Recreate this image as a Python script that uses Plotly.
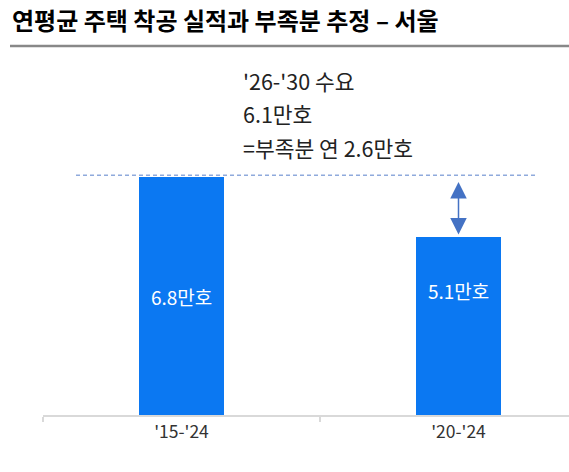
import plotly.graph_objects as go

# data
periods = ["'15-'24", "'20-'24"]
starts = [6.8, 5.1]              # 연평균 착공 실적 (만호)
bar_labels = ["6.8만호", "5.1만호"]
demand_level = 6.85              # 점선 기준선
note_lines = ["'26-'30 수요", "6.1만호", "=부족분 연 2.6만호"]

W, H = 569, 472
FONT = "Noto Sans CJK KR"
BLUE = "#0B78F2"
PW, PH = 526, 355   # plot area size in px

fig = go.Figure()
fig.add_trace(go.Bar(
    x=periods, y=starts, width=0.31,
    marker=dict(color=BLUE, line=dict(width=0)),
    hoverinfo="skip", showlegend=False,
))

# labels inside bars
label_y = [3.4, 3.55]
for p, lab, ly in zip(periods, bar_labels, label_y):
    fig.add_annotation(x=p, y=ly, text=lab, showarrow=False,
                       font=dict(family=FONT, size=19, color="white"))

# dashed demand line
fig.add_shape(type="line", xref="paper", yref="y",
              x0=(76 - 43) / PW, x1=(536 - 43) / PW,
              y0=demand_level, y1=demand_level,
              line=dict(color="#8FAADC", width=1.5, dash="4px,3px"))

# double arrow (gap)
fig.add_annotation(x=periods[1], y=5.16, ax=periods[1], ay=6.7,
                   xref="x", yref="y", axref="x", ayref="y",
                   text="", showarrow=True, arrowhead=2, startarrowhead=2,
                   arrowside="end+start", arrowsize=2.2, startarrowsize=2.2,
                   arrowwidth=1.5, arrowcolor="#4472C4")

# note text
for i, t in enumerate(note_lines):
    fig.add_annotation(xref="paper", yref="paper",
                       x=(241 - 43) / PW, y=1 - (80 + 33.5 * i - 60) / PH,
                       xanchor="left", yanchor="middle", text=t, showarrow=False,
                       font=dict(family=FONT, size=21.5, color="#222"))

# title + rule
fig.add_annotation(xref="paper", yref="paper", x=-33 / PW, y=1 + 40 / PH,
                   xanchor="left", yanchor="middle",
                   text="<b>연평균 주택 착공 실적과 부족분 추정 – 서울</b>",
                   showarrow=False, font=dict(family=FONT, size=24, color="black"))
fig.add_shape(type="line", xref="paper", yref="paper",
              x0=-33 / PW, x1=1, y0=1 + 14 / PH, y1=1 + 14 / PH,
              line=dict(color="#888888", width=2.5))

fig.update_layout(
    width=W, height=H,
    margin=dict(l=43, r=0, t=60, b=57),
    paper_bgcolor="white", plot_bgcolor="white",
    bargap=0,
    xaxis=dict(range=[-0.5, -0.5 + PW / 277], showgrid=False, zeroline=False,
               showline=True, linecolor="#D9D9D9", linewidth=1.5,
               ticks="outside", tickson="boundaries", ticklen=5,
               tickcolor="#D9D9D9", tickwidth=1.5,
               tickfont=dict(family=FONT, size=17.5, color="#333")),
    yaxis=dict(range=[0, PH / 35], visible=False, fixedrange=True),
)

# drop the default page margin so the figure fills the window
fig.write_html("out.html", config={"displayModeBar": False},
               post_script="document.body.style.margin='0';")
